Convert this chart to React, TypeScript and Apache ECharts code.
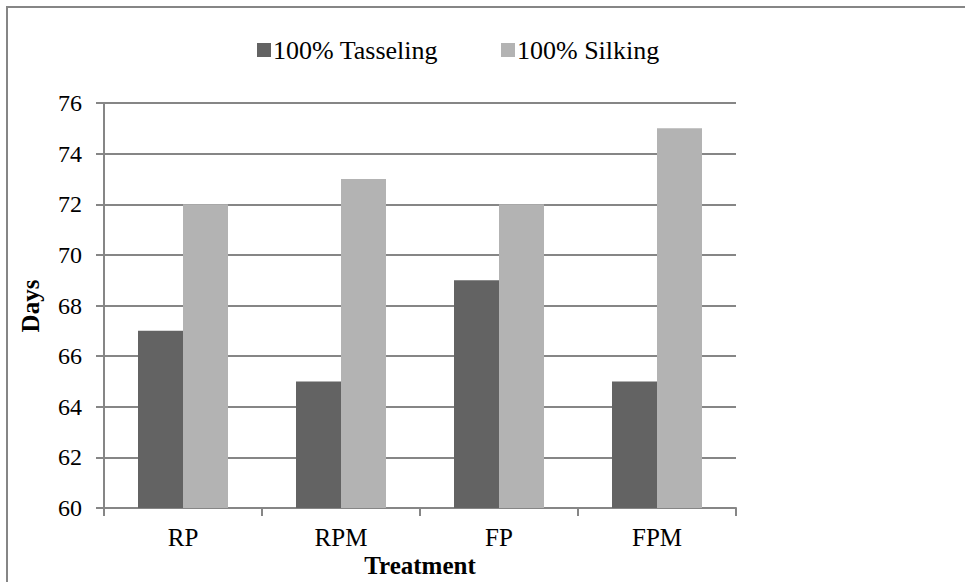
import React, { useEffect, useRef } from "react";
import * as echarts from "echarts";

const categories = ["RP", "RPM", "FP", "FPM"];
const tasseling = [67, 65, 69, 65];
const silking = [72, 73, 72, 75];
const seriesNames = ["100% Tasseling", "100% Silking"];

const FONT = "Liberation Serif";

export default function App() {
  const ref = useRef<HTMLDivElement>(null);
  useEffect(() => {
    document.body.style.margin = "0";
    const chart = echarts.init(ref.current!, null, { renderer: "svg" });
    chart.setOption({
      animation: false,
      backgroundColor: "#ffffff",
      textStyle: { fontFamily: FONT, color: "#000" },
      graphic: [
        {
          type: "rect",
          shape: { x: 7, y: 7, width: 1100, height: 1100 },
          style: { fill: "none", stroke: "#868686", lineWidth: 2 },
          silent: true,
        },
        {
          type: "text",
          x: 30,
          y: 306,
          rotation: Math.PI / 2,
          style: {
            text: "Days",
            fontFamily: FONT,
            fontWeight: "bold",
            fontSize: 25,
            fill: "#000",
            align: "center",
            verticalAlign: "middle",
          },
        },
        {
          type: "text",
          x: 420,
          y: 565,
          style: {
            text: "Treatment",
            fontFamily: FONT,
            fontWeight: "bold",
            fontSize: 25,
            fill: "#000",
            align: "center",
            verticalAlign: "middle",
          },
        },
      ],
      legend: {
        left: 252,
        top: 32,
        itemWidth: 14,
        itemHeight: 14,
        itemGap: 63,
        icon: "rect",
        data: seriesNames,
        textStyle: { fontFamily: FONT, fontSize: 26, color: "#000", padding: [0, 0, 0, -3] },
      },
      grid: { left: 104, top: 103, width: 632, height: 405, containLabel: false },
      xAxis: {
        type: "category",
        data: categories,
        axisLine: { lineStyle: { color: "#868686", width: 2 } },
        axisTick: { show: true, length: 8, lineStyle: { color: "#868686", width: 2 } },
        axisLabel: { fontFamily: FONT, fontSize: 25, color: "#000", margin: 17 },
      },
      yAxis: {
        type: "value",
        min: 60,
        max: 76,
        interval: 2,
        axisLine: { show: true, lineStyle: { color: "#868686", width: 2 } },
        axisTick: { show: true, length: 8, lineStyle: { color: "#868686", width: 2 } },
        axisLabel: { fontFamily: FONT, fontSize: 24, color: "#000", margin: 22 },
        splitLine: { show: true, lineStyle: { color: "#868686", width: 2 } },
      },
      series: [
        {
          name: seriesNames[0],
          type: "bar",
          data: tasseling,
          itemStyle: { color: "#636363" },
          barWidth: 45,
          barGap: "0%",
        },
        {
          name: seriesNames[1],
          type: "bar",
          data: silking,
          itemStyle: { color: "#b3b3b3" },
          barWidth: 45,
          barGap: "0%",
        },
      ],
    });
    return () => chart.dispose();
  }, []);
  return <div ref={ref} style={{ width: 965, height: 582 }} />;
}
